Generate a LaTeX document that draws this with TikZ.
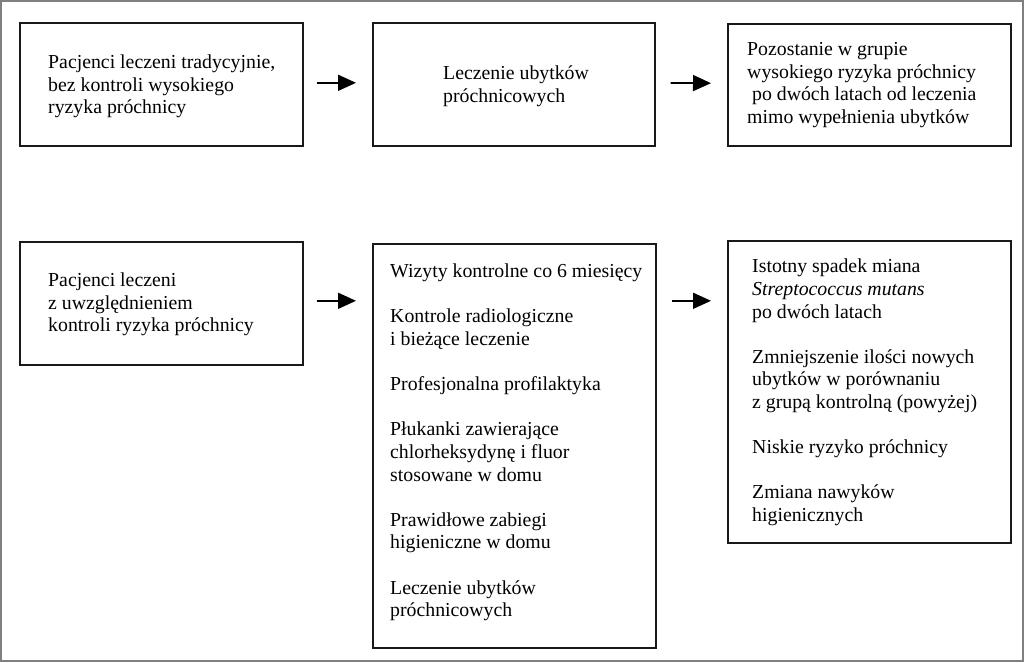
\documentclass[tikz,border=0pt]{standalone}
\usepackage{fontspec}
\setmainfont{Liberation Serif}
\usetikzlibrary{arrows.meta}
\begin{document}
\begin{tikzpicture}[x=1pt,y=-1pt,
  box/.style={draw=black!90, line width=1.6pt, inner sep=0pt, anchor=north west},
  txt/.style={anchor=west, align=left, inner sep=0pt, font=\fontsize{19.8}{22.6}\selectfont, text=black},
  arr/.style={line width=1.7pt, -{Triangle[length=18pt,width=16pt]}, black}]
\useasboundingbox (0,0) rectangle (1024,662);
\draw[black!50, line width=2pt] (1,1) rectangle (1023,661);
% boxes
\node[box, minimum width=283pt, minimum height=123pt] (b1) at (19,22) {};
\node[box, minimum width=282pt, minimum height=123pt] (b2) at (372,22) {};
\node[box, minimum width=283pt, minimum height=122pt] (b3) at (727,23) {};
\node[box, minimum width=283pt, minimum height=123pt] (b4) at (19,241) {};
\node[box, minimum width=283pt, minimum height=404pt] (b5) at (372,243) {};
\node[box, minimum width=283pt, minimum height=302pt] (b6) at (727,240) {};
% texts
\node[txt] (t1) at (48,86.5) {Pacjenci leczeni tradycyjnie,\\bez kontroli wysokiego\\ryzyka próchnicy};
\node[txt] (t2) at (443,86) {Leczenie ubytków\\próchnicowych};
\node[txt] (t3) at (747,85) {Pozostanie w grupie\\wysokiego ryzyka próchnicy\\\hspace*{0.25em}po dwóch latach od leczenia\\mimo wypełnienia ubytków};
\node[txt] (t4) at (48,304.5) {Pacjenci leczeni\\z uwzględnieniem\\kontroli ryzyka próchnicy};
\node[txt] (t5) at (390,442.5) {Wizyty kontrolne co 6 miesięcy\\[22.6pt]Kontrole radiologiczne\\i bieżące leczenie\\[22.6pt]Profesjonalna profilaktyka\\[22.6pt]Płukanki zawierające\\chlorheksydynę i fluor\\stosowane w domu\\[22.6pt]Prawidłowe zabiegi\\higieniczne w domu\\[22.6pt]Leczenie ubytków\\próchnicowych};
\node[txt] (t6) at (752,392.5) {Istotny spadek miana\\\textit{Streptococcus mutans}\\po dwóch latach\\[22.6pt]Zmniejszenie ilości nowych\\ubytków w porównaniu\\z grupą kontrolną (powyżej)\\[22.6pt]Niskie ryzyko próchnicy\\[22.6pt]Zmiana nawyków\\higienicznych};
% arrows
\draw[arr, shorten <=13pt, shorten >=16pt] ([yshift=1.5pt]b1.east) -- ([yshift=1.5pt]b2.west);
\draw[arr, shorten <=15pt, shorten >=16pt] ([yshift=1.5pt]b2.east) -- ([yshift=1.5pt]b3.west);
\draw[arr, shorten <=13pt, shorten >=16pt] ([yshift=2.5pt]b4.east) -- ([yshift=2.5pt]b4.east -| b5.west);
\draw[arr, shorten <=15pt, shorten >=16pt] ([yshift=2.5pt]b4.east -| b5.east) -- ([yshift=2.5pt]b4.east -| b6.west);
\end{tikzpicture}
\end{document}
